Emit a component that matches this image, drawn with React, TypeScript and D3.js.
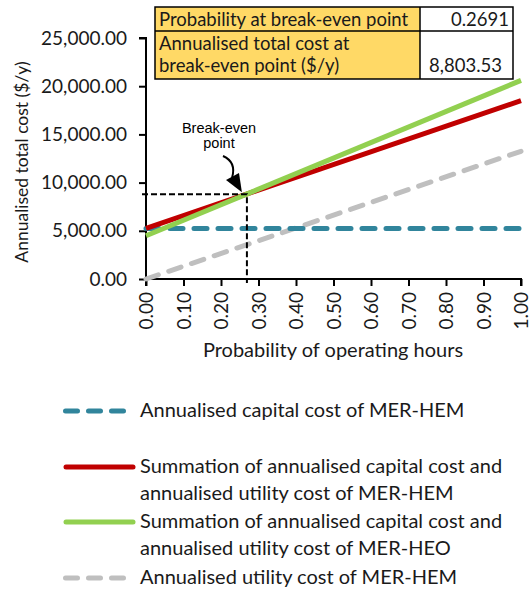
import React, { useEffect, useRef } from "react";
import * as d3 from "d3";

// probability of operating hours (straight lines, two end points each)
const probability = [0, 1];
const capitalHEM = [5250, 5250];
const utilityHEM = [0, 13250];
const totalHEM = [5250, 18500];
const totalHEO = [4480, 20600];

const xTicks = [0, 0.1, 0.2, 0.3, 0.4, 0.5, 0.6, 0.7, 0.8, 0.9, 1.0];
const yTicks = [0, 5000, 10000, 15000, 20000, 25000];

const breakEvenProb = 0.2691;
const breakEvenCost = 8803.53;

const tableLabels = ["Probability at break-even point", "Annualised total cost at", "break-even point ($/y)"];
const tableValues = ["0.2691", "8,803.53"];

const legendItems = [
  { lines: ["Annualised capital cost of MER-HEM"], color: "#31859C", dash: true },
  { lines: ["Summation of annualised capital cost and", "annualised utility cost of MER-HEM"], color: "#C00000", dash: false },
  { lines: ["Summation of annualised capital cost and", "annualised utility cost of MER-HEO"], color: "#92D050", dash: false },
  { lines: ["Annualised utility cost of MER-HEM"], color: "#BFBFBF", dash: true },
];

const FONT = "Lato, 'Liberation Sans', sans-serif";

export default function App() {
  const ref = useRef<SVGSVGElement>(null);

  useEffect(() => {
    const svg = d3.select(ref.current);
    svg.selectAll("*").remove();

    const x = d3.scaleLinear().domain([0, 1]).range([146, 521]);
    const y = d3.scaleLinear().domain([0, 25000]).range([279, 38]);

    // y axis
    const yAxis = svg.append("g")
      .attr("transform", "translate(146,0)")
      .call(d3.axisLeft(y).tickValues(yTicks).tickFormat(d3.format(",.2f")).tickSize(7).tickPadding(12));
    yAxis.select(".domain").attr("stroke", "#000").attr("stroke-width", 2).attr("d", `M-7,${y(25000)}H0V${y(0)}`);
    yAxis.selectAll(".tick line").attr("stroke", "#000").attr("stroke-width", 2);
    yAxis.selectAll(".tick text").attr("fill", "#1a1a1a").style("font-family", FONT).style("font-size", "19px");

    // x axis
    const xAxis = svg.append("g")
      .attr("transform", "translate(0,279)")
      .call(d3.axisBottom(x).tickValues(xTicks).tickFormat(d3.format(".2f")).tickSize(7));
    xAxis.select(".domain").attr("stroke", "#000").attr("stroke-width", 2).attr("d", `M${x(0)},7V0H${x(1)}V7`);
    xAxis.selectAll(".tick line").attr("stroke", "#000").attr("stroke-width", 2);
    xAxis.selectAll(".tick text")
      .attr("fill", "#1a1a1a")
      .attr("transform", "rotate(-90)")
      .attr("text-anchor", "end")
      .attr("x", -13)
      .attr("y", 0)
      .attr("dy", "0.35em")
      .style("font-family", FONT).style("font-size", "19px");

    // axis titles
    svg.append("text")
      .attr("transform", "translate(28,162) rotate(-90)")
      .attr("text-anchor", "middle")
      .style("font-family", FONT).style("font-size", "17.5px")
      .attr("fill", "#1a1a1a")
      .text("Annualised total cost ($/y)");
    svg.append("text")
      .attr("x", 333).attr("y", 357)
      .attr("text-anchor", "middle")
      .style("font-family", FONT).style("font-size", "20px")
      .attr("fill", "#1a1a1a")
      .text("Probability of operating hours");

    // series
    const line = d3.line<[number, number]>().x(d => x(d[0])).y(d => y(d[1]));
    const series = [
      { values: utilityHEM, color: "#BFBFBF", dash: "13,11" },
      { values: capitalHEM, color: "#31859C", dash: "13,11" },
      { values: totalHEM, color: "#C00000", dash: null },
      { values: totalHEO, color: "#92D050", dash: null },
    ];
    series.forEach(s => {
      svg.append("path")
        .datum(probability.map((p, i) => [p, s.values[i]] as [number, number]))
        .attr("d", line)
        .attr("fill", "none")
        .attr("stroke", s.color)
        .attr("stroke-width", 5)
        .attr("stroke-linecap", s.dash ? "round" : "butt")
        .attr("stroke-dasharray", s.dash);
    });

    // break-even guides
    svg.append("path")
      .attr("d", `M142,${y(breakEvenCost)}H${x(breakEvenProb)}V283`)
      .attr("fill", "none").attr("stroke", "#000").attr("stroke-width", 2).attr("stroke-dasharray", "6,3");

    // annotation
    const ann = svg.append("g").style("font-family", "Arial, 'Liberation Sans', sans-serif").style("font-size", "14.5px").attr("fill", "#000").attr("text-anchor", "middle");
    ann.append("text").attr("x", 219).attr("y", 133).text("Break-even");
    ann.append("text").attr("x", 219).attr("y", 148).text("point");
    svg.append("path").attr("d", "M223,156 C232,160 235,168 232,178").attr("fill", "none").attr("stroke", "#000").attr("stroke-width", 2);
    svg.append("path").attr("d", `M${x(breakEvenProb) - 5},${y(breakEvenCost) - 2} L226,180 L239,173 Z`).attr("fill", "#000");

    // table
    const tb = svg.append("g").style("font-family", FONT).style("font-size", "18.5px").attr("fill", "#1a1a1a");
    tb.append("rect").attr("x", 155).attr("y", 7).attr("width", 265).attr("height", 72).attr("fill", "#FFD966");
    tb.append("rect").attr("x", 420).attr("y", 7).attr("width", 93).attr("height", 72).attr("fill", "#fff");
    tb.append("path").attr("d", "M155,7H513V79H155Z M155,31H513 M420,7V79").attr("fill", "none").attr("stroke", "#000").attr("stroke-width", 1.5);
    tb.append("text").attr("x", 159).attr("y", 26).text(tableLabels[0]);
    tb.append("text").attr("x", 159).attr("y", 50).text(tableLabels[1]);
    tb.append("text").attr("x", 159).attr("y", 72).text(tableLabels[2]);
    tb.append("text").attr("x", 509).attr("y", 26).attr("text-anchor", "end").text(tableValues[0]);
    tb.append("text").attr("x", 502).attr("y", 72).attr("text-anchor", "end").text(tableValues[1]);

    // legend
    const rowsY = [411, 467, 522, 578];
    legendItems.forEach((it, i) => {
      const g = svg.append("g");
      const yy = rowsY[i];
      g.append("line")
        .attr("x1", it.dash ? 65.5 : 66).attr("x2", it.dash ? 124 : 133)
        .attr("y1", yy).attr("y2", yy)
        .attr("stroke", it.color).attr("stroke-width", 5)
        .attr("stroke-linecap", "round")
        .attr("stroke-dasharray", it.dash ? "12,11" : null);
      it.lines.forEach((t, j) => {
        g.append("text").attr("x", 140).attr("y", yy + 6 + j * 27)
          .style("font-family", FONT).style("font-size", "20px").attr("fill", "#1a1a1a").text(t);
      });
    });
  }, []);

  return <svg ref={ref} width={529} height={589} style={{ position: "absolute", left: 0, top: 0, background: "#fff" }} />;
}
